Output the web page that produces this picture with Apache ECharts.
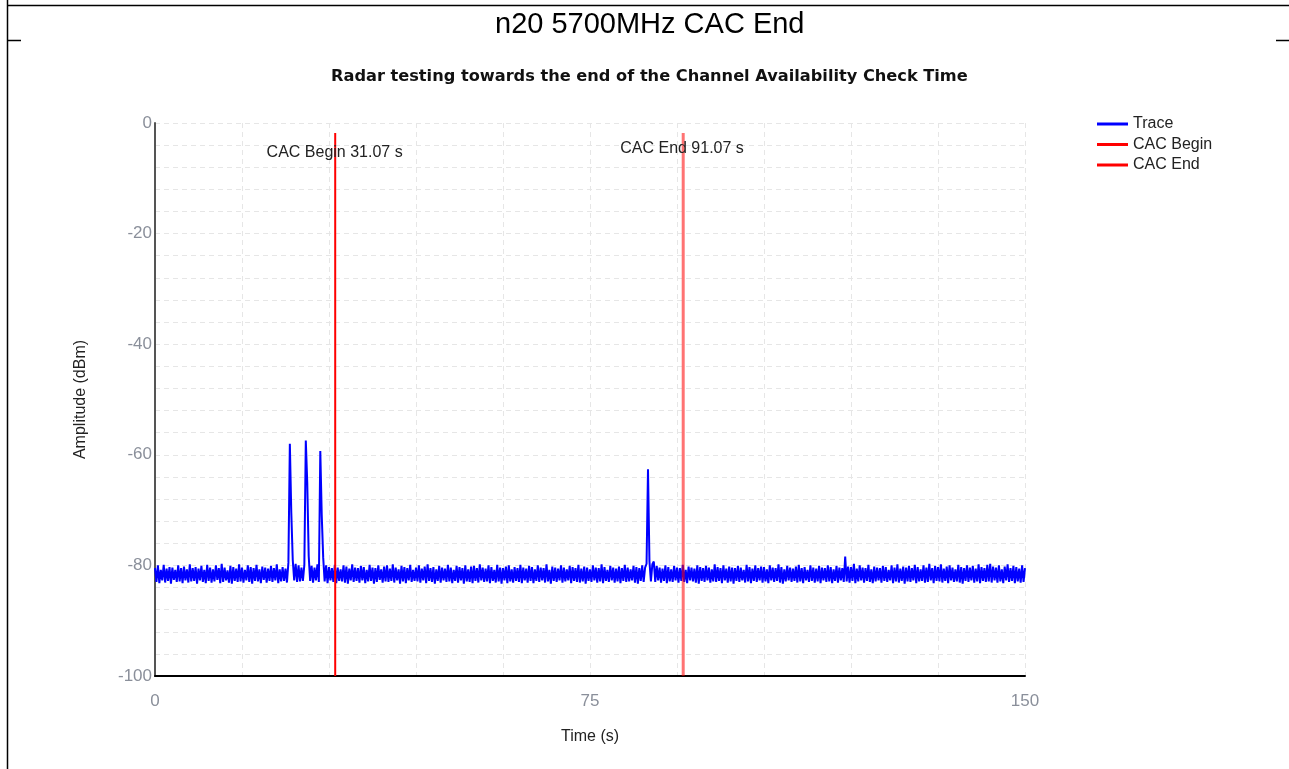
<!DOCTYPE html>
<html><head><meta charset="utf-8">
<script src="https://cdn.jsdelivr.net/npm/echarts@6/dist/echarts.min.js"></script>
<style>html,body{margin:0;padding:0;background:#fff;}#c{width:1289px;height:769px;}</style>
</head><body><div id="c"></div>
<script>
// ---- data ----
const mainTitle = 'n20 5700MHz CAC End';
const subTitle = 'Radar testing towards the end of the Channel Availability Check Time';
const seriesNames = ['Trace', 'CAC Begin', 'CAC End'];
const traceStart = 0;      // s
const traceStep = 0.25;    // s per sample
const traceValues = [
-80.5,-83.0,-80.0,-83.2,-80.8,-82.7,-79.9,-83.1,-80.6,-82.8,-80.3,-83.3,-80.4,-82.6,-80.8,-83.0,-80.0,-82.9,-80.5,-83.2,
-80.2,-82.7,-80.7,-83.1,-79.8,-82.9,-80.5,-82.8,-80.3,-83.3,-80.6,-82.7,-80.1,-83.0,-80.8,-83.2,-79.9,-82.8,-80.4,-83.1,
-80.7,-82.9,-80.0,-82.6,-80.5,-83.2,-79.7,-83.0,-80.4,-82.7,-80.9,-83.1,-80.1,-83.3,-80.3,-82.8,-80.6,-83.0,-79.8,-82.9,
-80.4,-83.1,-80.8,-82.7,-80.0,-83.0,-80.3,-83.3,-80.5,-82.8,-79.9,-82.9,-80.7,-83.2,-80.2,-82.6,-80.4,-83.1,-80.6,-82.8,
-80.1,-83.0,-80.5,-82.7,-79.8,-83.2,-80.7,-82.9,-80.3,-82.8,-80.6,-83.1,-79.5,-58.0,-70.5,-79.0,-82.7,-79.7,-83.0,-80.0,
-82.9,-80.4,-82.8,-79.9,-57.4,-65.0,-78.3,-82.8,-80.1,-83.1,-80.4,-82.7,-79.8,-83.0,-59.3,-71.0,-78.6,-82.9,-80.0,-83.2,
-80.3,-82.7,-80.5,-83.0,-79.9,-83.2,-80.4,-82.8,-80.7,-82.9,-80.0,-83.1,-80.2,-83.3,-80.6,-82.7,-79.8,-83.0,-80.4,-82.8,
-80.5,-83.1,-80.1,-82.7,-80.3,-83.2,-80.8,-82.9,-79.9,-82.8,-80.4,-83.3,-80.5,-83.0,-80.0,-82.6,-80.7,-83.1,-80.2,-82.9,
-80.0,-83.0,-80.6,-82.8,-79.8,-83.1,-80.4,-82.7,-80.7,-83.3,-80.1,-82.9,-80.3,-83.2,-80.5,-82.7,-79.9,-83.0,-80.8,-82.8,
-80.4,-82.9,-80.0,-83.1,-80.6,-82.7,-80.2,-83.2,-79.8,-82.8,-80.5,-83.0,-80.3,-83.3,-80.7,-82.8,-80.1,-83.1,-80.4,-82.7,
-80.6,-83.0,-79.9,-82.9,-80.4,-83.2,-80.8,-82.8,-80.1,-83.1,-80.3,-82.7,-80.5,-83.3,-80.0,-82.9,-80.7,-83.0,-80.2,-83.2,
-80.1,-82.8,-80.5,-83.1,-79.8,-82.7,-80.4,-83.0,-80.6,-82.9,-80.0,-83.2,-80.3,-82.8,-80.8,-83.1,-79.9,-82.9,-80.4,-83.3,
-80.5,-82.7,-80.2,-83.2,-80.0,-82.9,-80.7,-83.1,-80.3,-82.8,-80.5,-83.0,-79.9,-83.2,-80.4,-82.7,-80.6,-83.1,-80.1,-82.8,
-80.3,-83.2,-80.7,-82.8,-80.0,-83.0,-80.4,-82.7,-80.5,-83.1,-79.8,-82.9,-80.8,-83.3,-80.2,-82.8,-80.4,-83.0,-80.6,-82.7,
-80.0,-83.1,-80.4,-82.9,-80.7,-82.7,-80.1,-83.2,-80.3,-82.8,-80.5,-83.0,-79.9,-83.1,-80.6,-82.9,-80.2,-83.3,-80.4,-82.8,
-80.7,-83.0,-80.0,-82.7,-80.4,-83.1,-80.5,-82.9,-79.8,-83.2,-80.3,-82.8,-80.8,-83.0,-80.1,-82.7,-80.4,-83.1,-80.6,-82.9,
-80.2,-83.2,-80.5,-82.8,-79.9,-83.0,-80.4,-82.9,-80.7,-82.7,-80.1,-83.1,-80.3,-83.3,-80.5,-82.8,-80.0,-83.0,-80.4,-79.7,
-62.6,-79.3,-82.9,-79.8,-79.3,-83.0,-80.1,-82.7,-80.4,-83.1,-80.6,-82.8,-80.0,-83.2,-80.3,-82.9,-80.7,-83.0,-80.1,-82.7,
-80.4,-83.1,-80.5,-82.8,-79.9,-83.0,-80.8,-83.2,-80.2,-82.7,-80.4,-82.9,-80.6,-83.1,-80.0,-83.3,-80.3,-82.8,-80.5,-83.0,
-80.1,-82.7,-80.4,-83.1,-80.7,-82.9,-79.8,-83.0,-80.3,-82.8,-80.5,-83.2,-80.0,-82.7,-80.6,-83.1,-80.2,-82.9,-80.4,-83.3,
-80.5,-82.8,-80.1,-83.0,-80.4,-82.7,-80.8,-83.1,-79.9,-82.9,-80.3,-83.2,-80.6,-82.8,-80.0,-83.0,-80.5,-82.7,-80.2,-83.1,
-80.3,-82.9,-80.7,-83.2,-80.0,-82.7,-80.4,-83.0,-80.5,-82.8,-79.8,-83.1,-80.3,-83.3,-80.7,-82.9,-80.1,-82.7,-80.4,-83.0,
-80.6,-82.8,-80.2,-83.1,-79.9,-82.9,-80.5,-83.2,-80.3,-82.7,-80.8,-83.0,-80.0,-82.8,-80.4,-83.1,-80.6,-82.9,-80.1,-83.2,
-80.4,-82.7,-80.5,-83.0,-80.0,-82.9,-80.3,-83.2,-80.7,-82.8,-80.1,-83.1,-80.4,-82.7,-80.5,-83.0,-78.4,-82.9,-80.2,-83.1,
-80.3,-82.8,-79.7,-83.2,-80.6,-82.9,-80.0,-82.7,-80.4,-83.1,-80.5,-82.8,-79.9,-83.0,-80.7,-83.2,-80.2,-82.9,-80.4,-82.7,
-80.5,-83.1,-80.1,-82.8,-80.3,-83.0,-80.8,-82.7,-80.0,-83.2,-80.4,-82.9,-79.8,-83.1,-80.6,-82.8,-80.2,-83.3,-80.4,-82.9,
-80.1,-83.0,-80.5,-82.7,-79.9,-83.2,-80.3,-82.9,-80.7,-82.8,-80.0,-83.1,-80.4,-83.0,-79.7,-82.7,-80.5,-83.2,-80.1,-82.8,
-80.3,-82.9,-79.8,-83.1,-80.6,-82.8,-80.2,-83.2,-80.0,-82.7,-80.4,-83.0,-80.7,-82.9,-79.9,-83.1,-80.3,-83.3,-80.5,-82.8,
-80.0,-83.0,-80.4,-82.7,-80.1,-83.1,-80.6,-82.9,-79.8,-83.2,-80.3,-82.8,-80.5,-83.0,-79.9,-82.9,-79.7,-83.1,-80.2,-82.7,
-80.4,-83.1,-80.0,-82.9,-80.7,-83.2,-80.2,-82.7,-79.8,-83.0,-80.5,-82.8,-80.1,-83.2,-80.3,-82.9,-80.6,-83.1,-80.0,-83.0,
-80.5
];
const cacBeginTime = 31.07;   // s
const cacEndTime = 91.07;     // s
const markerSpan = [-100, -1.8]; // dBm extent of marker lines
const markerLabelLevel = [-5.4, -4.7]; // dBm where marker texts sit
const xLabelTicks = [0, 75, 150];
const yLabelStep = 20;

// ---- chart ----
const FONT = "'Liberation Sans', Arial, sans-serif";
const traceData = traceValues.map((v, i) => [traceStart + i * traceStep, v]);
const chart = echarts.init(document.getElementById('c'), null, {renderer: 'canvas'});
const labelGrey = '#8a8f9a';
const option = {
  animation: false,
  backgroundColor: '#ffffff',
  textStyle: {fontFamily: FONT},
  title: [
    {text: mainTitle, left: 490, top: 5,
     textStyle: {fontFamily: FONT, fontSize: 29, fontWeight: 'normal', color: '#000'}},
    {text: subTitle, left: 326, top: 64,
     textStyle: {fontFamily: "'DejaVu Sans', sans-serif", fontSize: 16.2, fontWeight: 'bold', color: '#111'}}
  ],
  legend: {
    orient: 'vertical', left: 1092, top: 111,
    icon: 'rect', itemWidth: 31, itemHeight: 3, itemGap: 4.5,
    textStyle: {fontFamily: FONT, fontSize: 16, color: '#222', lineHeight: 16},
    data: [
      {name: seriesNames[0], itemStyle: {color: '#0000ff'}},
      {name: seriesNames[1], itemStyle: {color: '#ff0000'}},
      {name: seriesNames[2], itemStyle: {color: '#ff0000'}}
    ]
  },
  grid: {left: 155, right: 264, top: 123, bottom: 93, containLabel: false},
  xAxis: {
    type: 'value', min: 0, max: 150, interval: 15,
    name: 'Time (s)', nameLocation: 'middle', nameGap: 53,
    nameTextStyle: {fontFamily: FONT, fontSize: 16, color: '#222'},
    axisLine: {show: true, onZero: false, lineStyle: {color: '#000', width: 2}},
    axisTick: {show: false},
    axisLabel: {fontFamily: FONT, fontSize: 17, color: labelGrey, margin: 17,
      formatter: v => xLabelTicks.indexOf(v) >= 0 ? String(v) : ''},
    splitLine: {show: true, lineStyle: {color: '#e6e6e6', type: [5, 4], width: 1}}
  },
  yAxis: {
    type: 'value', min: -100, max: 0, interval: 4,
    name: 'Amplitude (dBm)', nameLocation: 'middle', nameGap: 66,
    nameTextStyle: {fontFamily: FONT, fontSize: 16, color: '#222'},
    axisLine: {show: true, onZero: false, lineStyle: {color: '#555', width: 2}},
    axisTick: {show: false},
    axisLabel: {fontFamily: FONT, fontSize: 17, color: labelGrey, margin: 3,
      formatter: v => Math.abs(v % yLabelStep) < 1e-6 ? String(Math.round(v)) : ''},
    splitLine: {show: true, lineStyle: {color: '#e6e6e6', type: [5, 4], width: 1}}
  },
  series: [
    {
      name: seriesNames[0], type: 'line', data: traceData,
      symbol: 'none', showSymbol: false, sampling: null, z: 2,
      color: '#0000ff',
      lineStyle: {color: '#0000ff', width: 2}
    },
    {
      name: seriesNames[1], type: 'line',
      data: [[cacBeginTime, markerSpan[0]], [cacBeginTime, markerSpan[1]]],
      symbol: 'none', z: 3, color: '#ff0000',
      lineStyle: {color: '#ff0000', width: 2},
      markPoint: {
        symbol: 'circle', symbolSize: 1, itemStyle: {color: 'rgba(0,0,0,0)'},
        data: [{coord: [cacBeginTime - 0.1, markerLabelLevel[0]],
          label: {show: true, position: 'inside', formatter: 'CAC Begin ' + cacBeginTime + ' s',
            fontFamily: FONT, fontSize: 16, color: '#222'}}]
      }
    },
    {
      name: seriesNames[2], type: 'line',
      data: [[cacEndTime, markerSpan[0]], [cacEndTime, markerSpan[1]]],
      symbol: 'none', z: 4, color: '#ff0000',
      lineStyle: {color: 'rgba(255,0,0,0.55)', width: 3},
      markPoint: {
        symbol: 'circle', symbolSize: 1, itemStyle: {color: 'rgba(0,0,0,0)'},
        data: [{coord: [cacEndTime - 0.2, markerLabelLevel[1]],
          label: {show: true, position: 'inside', formatter: 'CAC End ' + cacEndTime + ' s',
            fontFamily: FONT, fontSize: 16, color: '#222'}}]
      }
    }
  ],
  graphic: [
    {type: 'line', shape: {x1: 7.5, y1: 0, x2: 7.5, y2: 769}, style: {stroke: '#000', lineWidth: 1.5}, silent: true},
    {type: 'line', shape: {x1: 7, y1: 5.5, x2: 1289, y2: 5.5}, style: {stroke: '#000', lineWidth: 1.5}, silent: true},
    {type: 'line', shape: {x1: 7, y1: 40.5, x2: 21, y2: 40.5}, style: {stroke: '#000', lineWidth: 1.5}, silent: true},
    {type: 'line', shape: {x1: 1276, y1: 40.5, x2: 1289, y2: 40.5}, style: {stroke: '#000', lineWidth: 1.5}, silent: true}
  ]
};
chart.setOption(option);
</script>
</body></html>
